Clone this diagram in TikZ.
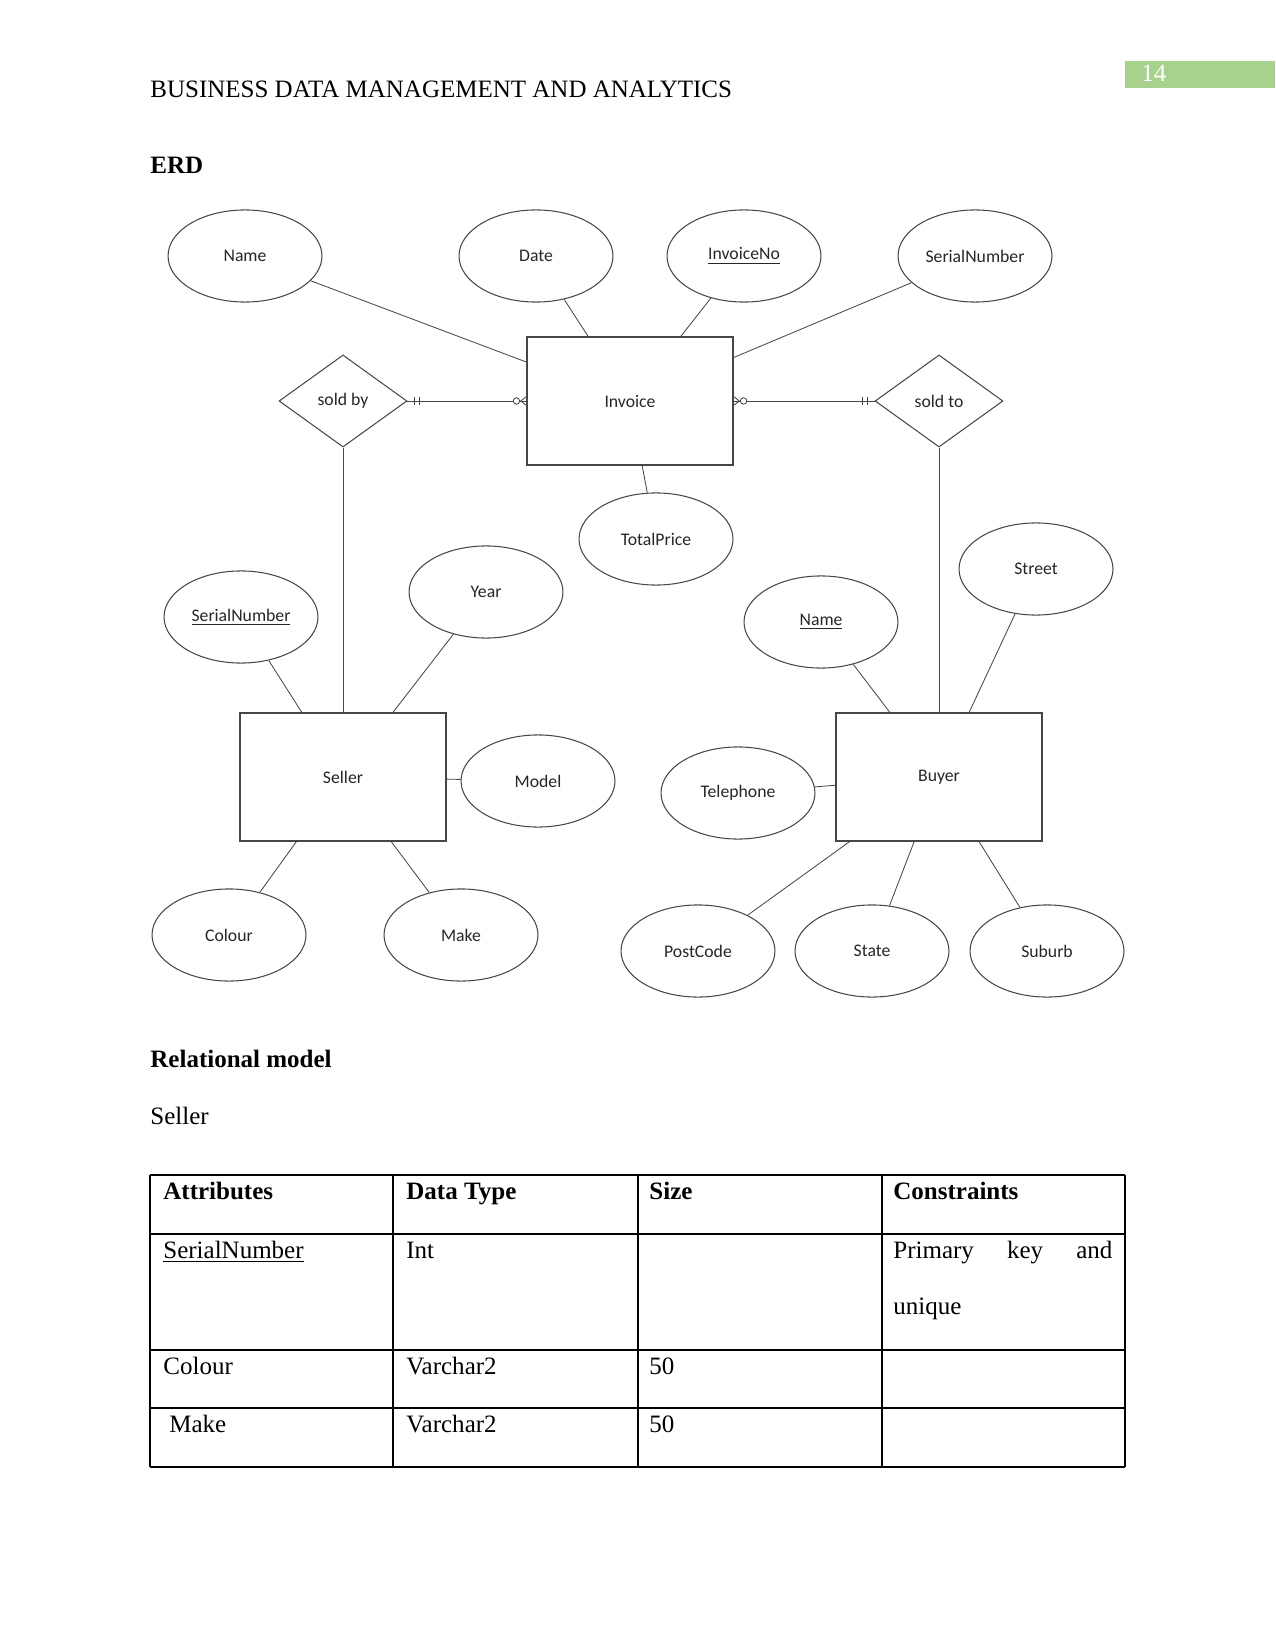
\documentclass[tikz,border=0pt]{standalone}
\usepackage{fontspec}
\setmainfont{Liberation Serif}
\newfontfamily\erfont{Carlito}
\usetikzlibrary{positioning, arrows.meta, shapes.geometric}
\definecolor{ergray}{RGB}{70,70,70}
\definecolor{pagegreen}{RGB}{169,209,142}
\tikzset{
	erlabel/.style={font=\erfont\fontsize{8.5}{10}\selectfont, text=black!85},
	entity/.style={rectangle, draw=ergray, line width=0.6pt, minimum width=98.9pt,
		minimum height=61.4pt, erlabel},
	attrib/.style={ellipse, draw=ergray, line width=0.5pt, minimum width=73.9pt,
		minimum height=44.2pt, inner sep=0pt, erlabel},
	relship/.style={diamond, draw=ergray, line width=0.5pt, minimum width=61.4pt,
		minimum height=44.2pt, inner sep=0pt, erlabel},
	link/.style={draw=ergray, line width=0.4pt},
	onemany/.style={link, {Bar[width=4pt,sep=3pt]Bar[width=4pt,sep=2pt]}-{Circle[fill=white,length=3.5pt]Straight Barb[reversed,length=2.5pt,width=4pt]}},
	bodytext/.style={anchor=base west, inner sep=0pt, font=\fontsize{12}{14}\selectfont},
	tabrule/.style={draw=black, line width=0.5pt}
}

\begin{document}
\begin{tikzpicture}[x=0.48pt, y=-0.48pt]
	\useasboundingbox (0,0) rectangle (1275,1650);
	% page header
	\fill[pagegreen] (1125,61) rectangle (1275,88);
	\node[bodytext, text=white] (pagenum) at (1141,82) {14};
	\node[bodytext] (header) at (150,98) {BUSINESS DATA MANAGEMENT AND ANALYTICS};
	\node[bodytext, font=\fontsize{12}{14}\selectfont\bfseries] (erdtitle) at (150,174) {ERD};

	% entities and relationships
	\node[entity] (invoice) at (630,401) {Invoice};
	\node[entity] (seller) at (343,777) {Seller};
	\node[entity] (buyer) at (939,777) {Buyer};
	\node[relship] (soldby) at (343,401) {sold by};
	\node[relship] (soldto) at (939,401) {sold to};

	% attributes
	\node[attrib] (invname) at (245,256) {Name};
	\node[attrib] (invdate) at (536,256) {Date};
	\node[attrib] (invno) at (744,256) {\underline{InvoiceNo}};
	\node[attrib] (invserial) at (975,256) {SerialNumber};
	\node[attrib] (invtotal) at (656,539) {TotalPrice};
	\node[attrib] (selserial) at (241,617) {\underline{SerialNumber}};
	\node[attrib] (selyear) at (486,592) {Year};
	\node[attrib] (selmodel) at (538,781) {Model};
	\node[attrib] (selcolour) at (229,935) {Colour};
	\node[attrib] (selmake) at (461,935) {Make};
	\node[attrib] (buyname) at (821,622) {\underline{Name}};
	\node[attrib] (buystreet) at (1036,569) {Street};
	\node[attrib] (buyphone) at (738,793) {Telephone};
	\node[attrib] (buypost) at (698,951) {PostCode};
	\node[attrib] (buystate) at (872,951) {State};
	\node[attrib] (buysuburb) at (1047,951) {Suburb};

	\foreach \a/\b in {invname/invoice, invdate/invoice, invno/invoice, invserial/invoice,
			invtotal/invoice, selserial/seller, selyear/seller, selmodel/seller,
			selcolour/seller, selmake/seller, buyname/buyer, buystreet/buyer,
			buyphone/buyer, buypost/buyer, buystate/buyer, buysuburb/buyer,
			soldby/seller, soldto/buyer, soldby/invoice, soldto/invoice}
		\draw[link] (\a) -- (\b);
	% cardinality marks
	\draw[onemany] (soldby) -- (invoice);
	\draw[onemany] (soldto) -- (invoice);

	% relational model
	\node[bodytext, font=\fontsize{12}{14}\selectfont\bfseries] (reltitle) at (150,1067) {Relational model};
	\node[bodytext] (seltitle) at (150,1124) {Seller};
	\foreach \y in {1175,1234,1350,1408,1467}
		\draw[tabrule] (150,\y) -- (1125,\y);
	\foreach \x in {150,393,638,882,1125}
		\draw[tabrule] (\x,1175) -- (\x,1467);
	\node[bodytext, font=\fontsize{12}{14}\selectfont\bfseries] (hattr) at (163,1199) {Attributes};
	\node[bodytext, font=\fontsize{12}{14}\selectfont\bfseries] (htype) at (406,1199) {Data Type};
	\node[bodytext, font=\fontsize{12}{14}\selectfont\bfseries] (hsize) at (649,1199) {Size};
	\node[bodytext, font=\fontsize{12}{14}\selectfont\bfseries] (hcons) at (893,1199) {Constraints};
	\node[bodytext] (cserial) at (163,1258) {\underline{SerialNumber}};
	\node[bodytext] (cint) at (406,1258) {Int};
	\node[bodytext, text width=219pt*0.48] (cpk) at (893,1258) {Primary\hfill key\hfill and};
	\node[bodytext] (cunique) at (893,1314) {unique};
	\node[bodytext] (ccolour) at (163,1374) {Colour};
	\node[bodytext] (cvar1) at (406,1374) {Varchar2};
	\node[bodytext] (csize1) at (649,1374) {50};
	\node[bodytext] (cmake) at (169,1432) {Make};
	\node[bodytext] (cvar2) at (406,1432) {Varchar2};
	\node[bodytext] (csize2) at (649,1432) {50};
\end{tikzpicture}
\end{document}
